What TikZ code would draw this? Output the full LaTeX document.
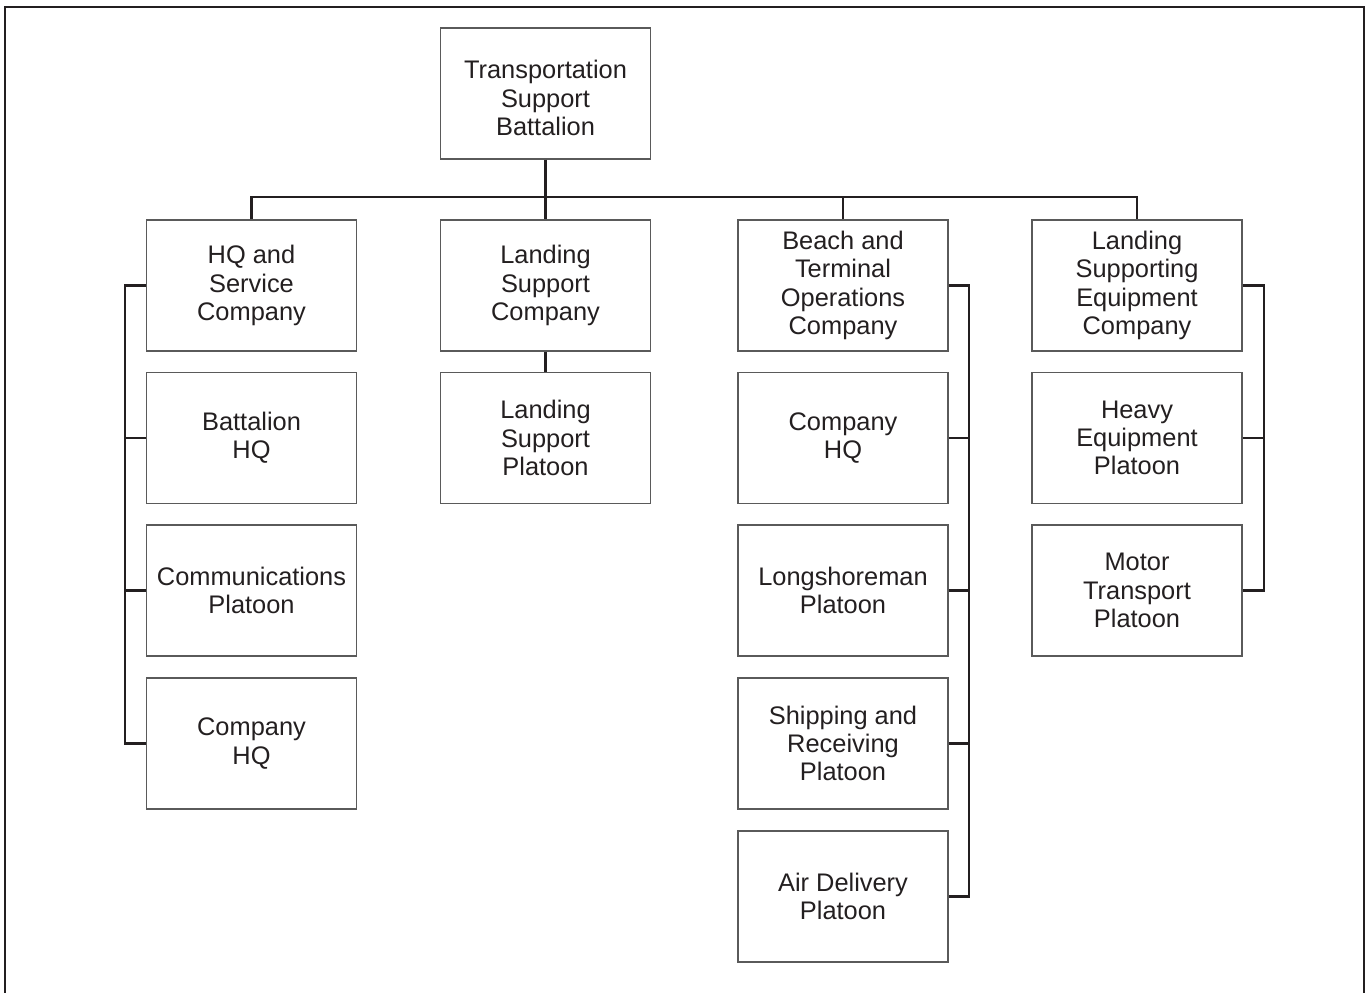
\documentclass[tikz,border=0pt]{standalone}
\usepackage{fontspec}
\setmainfont{Liberation Sans}
\definecolor{ink}{HTML}{231F20}
\definecolor{edge}{HTML}{5A5A5A}
\begin{document}
\begin{tikzpicture}[x=1pt,y=-1pt,
  unit/.style={draw=edge, line width=1.1pt, minimum width=210pt, minimum height=131pt,
    inner sep=0pt, align=center, text=ink, font=\fontsize{25.4}{28.3}\selectfont},
  link/.style={draw=ink, line width=2.2pt},
  frame/.style={draw=ink, line width=2.2pt}]
\useasboundingbox (0,0) rectangle (1366,993);
% outer frame, open at the bottom
\draw[frame] (5,993) -- (5,7) -- (1364,7) -- (1364,993);

% battalion (its text sits a little low in the box)
\node[unit] (tsb) at (545.5,93.5) {};
\node[unit, draw=none, minimum width=0pt, minimum height=0pt] (tsbtext)
  at ([yshift=-4.5pt]tsb.center) {Transportation\\Support\\Battalion};

% first row: companies
\node[unit] (hqs) at (251.5,285.5) {HQ and\\Service\\Company};
\node[unit] (lsc) at (545.5,285.5) {Landing\\Support\\Company};
\node[unit] (bto) at (843,285.5) {Beach and\\Terminal\\Operations\\Company};
\node[unit] (lse) at (1137,285.5) {Landing\\Supporting\\Equipment\\Company};

% HQ and Service Company
\node[unit] (bhq) at (251.5,438) {Battalion\\HQ};
\node[unit] (com) at (251.5,590.5) {Communications\\Platoon};
\node[unit] (chq1) at (251.5,743.5) {Company\\HQ};

% Landing Support Company
\node[unit] (lsp) at (545.5,438) {Landing\\Support\\Platoon};

% Beach and Terminal Operations Company
\node[unit] (chq2) at (843,438) {Company\\HQ};
\node[unit] (lng) at (843,590.5) {Longshoreman\\Platoon};
\node[unit] (shp) at (843,743.5) {Shipping and\\Receiving\\Platoon};
\node[unit] (air) at (843,896.5) {Air Delivery\\Platoon};

% Landing Supporting Equipment Company
\node[unit] (hep) at (1137,438) {Heavy\\Equipment\\Platoon};
\node[unit] (mtp) at (1137,590.5) {Motor\\Transport\\Platoon};

% bus and bracket guides
\coordinate (bus) at (545.5,197);
\coordinate (lb) at (125,0);
\coordinate (rb3) at (969,0);
\coordinate (rb4) at (1264,0);

% battalion to companies
\draw[link] (tsb.south) -- (lsc.north);
\draw[link] (hqs.north) -- (hqs.north |- bus) -- (lse.north |- bus) -- (lse.north);
\draw[link] (bto.north) -- (bto.north |- bus);

% HQ and Service Company bracket
\draw[link] (hqs.west) -- (hqs.west -| lb) -- (chq1.west -| lb) -- (chq1.west);
\draw[link] (bhq.west) -- (bhq.west -| lb);
\draw[link] (com.west) -- (com.west -| lb);

% Landing Support Company
\draw[link] (lsc.south) -- (lsp.north);

% Beach and Terminal Operations Company bracket
\draw[link] (bto.east) -- (bto.east -| rb3) -- (air.east -| rb3) -- (air.east);
\draw[link] (chq2.east) -- (chq2.east -| rb3);
\draw[link] (lng.east) -- (lng.east -| rb3);
\draw[link] (shp.east) -- (shp.east -| rb3);

% Landing Supporting Equipment Company bracket
\draw[link] (lse.east) -- (lse.east -| rb4) -- (mtp.east -| rb4) -- (mtp.east);
\draw[link] (hep.east) -- (hep.east -| rb4);
\end{tikzpicture}
\end{document}
